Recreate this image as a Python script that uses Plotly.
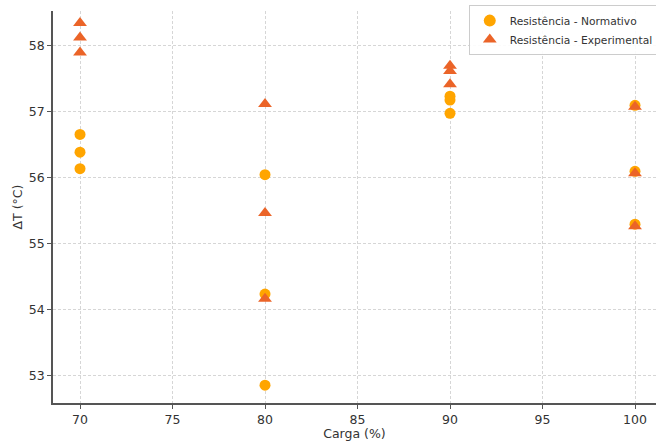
import plotly.graph_objects as go

carga_norm = [70, 70, 70, 80, 80, 80, 90, 90, 90, 100, 100, 100]
dt_norm = [56.66, 56.39, 56.14, 56.05, 54.24, 52.86, 57.24, 57.18, 56.98, 57.10, 56.10, 55.30]

carga_exp = [70, 70, 70, 80, 80, 80, 90, 90, 90, 100, 100, 100]
dt_exp = [58.35, 58.13, 57.90, 57.12, 55.47, 54.17, 57.70, 57.62, 57.42, 57.08, 56.07, 55.27]

x_ticks = [70, 75, 80, 85, 90, 95, 100]
y_ticks = [53, 54, 55, 56, 57, 58]

fig = go.Figure()
fig.add_trace(go.Scatter(
    x=carga_norm, y=dt_norm, mode="markers", name="Resistência - Normativo",
    marker=dict(symbol="circle", size=11, color="#FFA500", line=dict(width=0)),
))
fig.add_trace(go.Scatter(
    x=carga_exp, y=dt_exp, mode="markers", name="Resistência - Experimental",
    marker=dict(symbol="triangle-up", size=12, color="#EB6428", line=dict(width=0)),
))

axis_common = dict(
    showgrid=True, gridcolor="#d6d6d6", gridwidth=0.8, griddash="3px,2px",
    showline=True, linecolor="#555555", linewidth=1.6,
    ticks="outside", ticklen=4, tickcolor="#555555", tickwidth=1,
    tickfont=dict(family="DejaVu Sans", size=12.5, color="#333333"),
    zeroline=False, mirror=False, automargin=False,
)

fig.update_layout(
    width=656, height=441,
    margin=dict(l=53, r=0, t=11, b=38, autoexpand=False),
    paper_bgcolor="white", plot_bgcolor="white",
    font=dict(family="DejaVu Sans", size=12, color="#333333"),
    xaxis=dict(range=[68.54, 101.135], tickvals=x_ticks,
               title=dict(text="Carga (%)", standoff=4, font=dict(size=12.5)),
               **axis_common),
    yaxis=dict(range=[52.59, 58.53], tickvals=y_ticks,
               title=dict(text="ΔT (°C)", standoff=3, font=dict(size=12.5)),
               **axis_common),
    legend=dict(x=0.6895, y=1.015, xanchor="left", yanchor="top",
                bgcolor="rgba(255,255,255,0.9)", bordercolor="#cccccc", borderwidth=1,
                font=dict(family="DejaVu Sans", size=10.7, color="#333333"),
                itemsizing="constant", itemwidth=30, tracegroupgap=0),
    showlegend=True,
)

# remove the default 8px body margin so the 656x441 figure fills the window
fig.write_html(
    "out.html",
    config={"displayModeBar": False},
    post_script="document.body.style.margin='0';document.body.style.overflow='hidden';",
)
